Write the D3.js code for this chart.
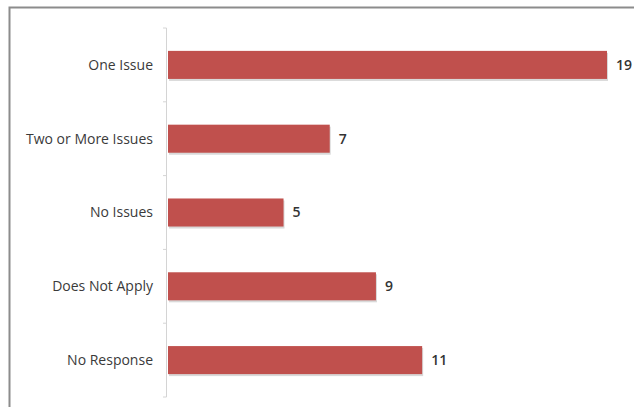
<!DOCTYPE html>
<html>
<head>
<meta charset="utf-8">
<script src="https://cdn.jsdelivr.net/npm/d3@7"></script>
<style>
  html, body { margin: 0; padding: 0; background: #fff; }
  svg { display: block; }
</style>
</head>
<body>
<svg id="chart" width="634" height="407"></svg>
<script>
// Survey responses, top to bottom
const categories = ["One Issue", "Two or More Issues", "No Issues", "Does Not Apply", "No Response"];
const counts = [19, 7, 5, 9, 11];

const svg = d3.select("#chart");
const W = 634, H = 407;

// chart frame (runs past the right and bottom edges)
svg.append("rect")
  .attr("x", 9.5).attr("y", 7.5)
  .attr("width", W + 20).attr("height", H + 20)
  .attr("fill", "#fff")
  .attr("stroke", "#8c8c8c")
  .attr("stroke-width", 2);

const plot = { left: 168, top: 28, bottom: 397 };

const y = d3.scaleBand()
  .domain(categories)
  .range([plot.top, plot.bottom])
  .paddingInner(0.62)
  .paddingOuter(0.31);

const x = d3.scaleLinear()
  .domain([0, 19])
  .range([plot.left, 607]);

// category axis with ticks between bands
svg.append("line")
  .attr("x1", plot.left - 1.5).attr("x2", plot.left - 1.5)
  .attr("y1", plot.top).attr("y2", plot.bottom)
  .attr("stroke", "#d4d4d4").attr("stroke-width", 1);

const step = (plot.bottom - plot.top) / categories.length;
svg.append("g").selectAll("line")
  .data(d3.range(categories.length + 1))
  .join("line")
  .attr("x1", plot.left - 5).attr("x2", plot.left - 1.5)
  .attr("y1", i => plot.top + i * step)
  .attr("y2", i => plot.top + i * step)
  .attr("stroke", "#d4d4d4");

// shadow under the bars
svg.append("g").selectAll("rect")
  .data(counts)
  .join("rect")
  .attr("x", x(0) + 1)
  .attr("y", (d, i) => y(categories[i]) + 2)
  .attr("width", d => x(d) - x(0))
  .attr("height", y.bandwidth())
  .attr("fill", "#d9d9d9");

svg.append("g").selectAll("rect")
  .data(counts)
  .join("rect")
  .attr("x", x(0))
  .attr("y", (d, i) => y(categories[i]))
  .attr("width", d => x(d) - x(0))
  .attr("height", y.bandwidth())
  .attr("fill", "#c0504d");

// category labels
svg.append("g").selectAll("text")
  .data(categories)
  .join("text")
  .attr("x", 153)
  .attr("y", d => y(d) + y.bandwidth() / 2)
  .attr("dy", "0.35em")
  .attr("text-anchor", "end")
  .attr("font-family", "'Open Sans', sans-serif")
  .attr("font-size", 14)
  .attr("fill", "#3a3a3a")
  .text(d => d);

// value labels
svg.append("g").selectAll("text")
  .data(counts)
  .join("text")
  .attr("x", d => x(d) + 9)
  .attr("y", (d, i) => y(categories[i]) + y.bandwidth() / 2)
  .attr("dy", "0.35em")
  .attr("font-family", "'Open Sans', sans-serif")
  .attr("font-size", 14)
  .attr("font-weight", 600)
  .attr("fill", "#333")
  .text(d => d);
</script>
</body>
</html>
